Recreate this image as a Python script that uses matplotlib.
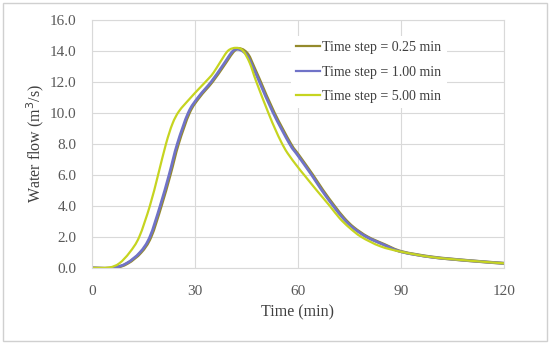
import matplotlib
matplotlib.use("Agg")
import matplotlib.pyplot as plt
import numpy as np
from matplotlib.patches import Rectangle, PathPatch
from matplotlib.path import Path
from matplotlib.lines import Line2D

# time step = 5.00 min
t_5 = [0, 5, 8, 11, 13.8, 16.9, 19.3, 21.6, 23.5, 25.4, 28.5, 31, 34, 35.5, 37.5, 39.7,
       42, 44, 46, 47.9, 51.4, 53.4, 55.2, 57, 60, 62, 65.5, 69.3, 72.2, 75, 78.5, 84, 90, 99, 110, 120]
q_5 = [0, 0.03, 0.3, 1.0, 2.0, 4.0, 6.0, 8.0, 9.3, 10.1, 10.9, 11.5, 12.2, 12.6, 13.3, 14.0,
       14.18, 14.0, 13.2, 12.0, 10.0, 8.95, 8.1, 7.4, 6.5, 5.95, 5.0, 4.0, 3.2, 2.6, 2.0, 1.4, 1.05,
       0.7, 0.47, 0.3]

# time step = 1.00 min
t_1 = [0, 6, 10.1, 14, 16.9, 19.9, 22.5, 24.9, 28.1, 31, 34.8, 38, 41.2, 43.2, 45.2, 47,
       48.8, 52.8, 57.6, 60, 64, 67, 70.3, 73.2, 76, 80, 85, 90, 99, 110, 120]
q_1 = [0, 0.0, 0.3, 1.0, 2.0, 4.0, 6.0, 8.0, 10.0, 11.0, 12.0, 13.0, 14.0, 14.05, 13.7, 12.9,
       12.0, 10.0, 8.0, 7.25, 6.0, 5.0, 4.0, 3.2, 2.6, 2.0, 1.5, 1.05, 0.7, 0.47, 0.3]

# time step = 0.25 min
t_025 = [0, 6.3, 10.4, 14.3, 17.2, 20.2, 22.8, 25.2, 28.4, 31.3, 35.1, 38.3, 41.5, 43.5, 45.5, 47.3,
         49.1, 53.1, 57.9, 60.3, 64.3, 67.3, 70.6, 73.5, 76.3, 80.3, 85.3, 90.3, 99.3, 110, 120]
q_025 = [0, 0.0, 0.3, 1.0, 2.0, 4.0, 6.0, 8.0, 10.0, 11.0, 12.0, 13.0, 14.0, 14.1, 13.75, 12.9,
         12.0, 10.0, 8.0, 7.25, 6.0, 5.0, 4.0, 3.2, 2.6, 2.0, 1.5, 1.05, 0.7, 0.47, 0.3]

x_ticks = [0, 30, 60, 90, 120]
y_ticks = [0, 2, 4, 6, 8, 10, 12, 14, 16]


def smooth_line(ax, x, y, color, lw):
    # excel-like smoothed line: catmull-rom segments drawn as cubic beziers
    p = np.column_stack([x, y]).astype(float)
    ext = np.vstack([p[0], p, p[-1]])
    verts = [p[0]]
    codes = [Path.MOVETO]
    for i in range(1, len(ext) - 2):
        p0, p1, p2, p3 = ext[i - 1], ext[i], ext[i + 1], ext[i + 2]
        verts += [p1 + (p2 - p0) / 6, p2 - (p3 - p1) / 6, p2]
        codes += [Path.CURVE4] * 3
    ax.add_patch(PathPatch(Path(verts, codes), fill=False, edgecolor=color, lw=lw,
                           capstyle='round', joinstyle='round'))


plt.rcParams['font.family'] = ['Liberation Serif', 'DejaVu Serif']

fig = plt.figure(figsize=(5.5, 3.44), dpi=100)
ax = fig.add_axes([0.167, 0.221, 0.749, 0.722])

series = [
    (t_025, q_025, '#948a2c', 2.2, 'Time step = 0.25 min'),
    (t_1, q_1, '#7073c8', 2.0, 'Time step = 1.00 min'),
    (t_5, q_5, '#c6d420', 1.6, 'Time step = 5.00 min'),
]
handles = []
for x, y, c, lw, lab in series:
    smooth_line(ax, x, y, c, lw)
    handles.append(Line2D([], [], color=c, lw=1.6, label=lab))

ax.set_xlim(0, 120)
ax.set_ylim(0, 16)
ax.set_xticks(x_ticks)
ax.set_yticks(y_ticks)
ax.set_yticklabels([f"{v:.1f}" for v in y_ticks])
ax.grid(True, color='#d9d9d9', lw=0.8)
ax.set_axisbelow(True)
for s in ax.spines.values():
    s.set_color('#d9d9d9')
    s.set_linewidth(0.8)
ax.tick_params(length=0, labelsize=11, colors='#595959')
ax.tick_params(axis='x', pad=12)
ax.tick_params(axis='y', pad=11)

ax.set_xlabel('Time (min)', fontsize=11.5, color='#404040', labelpad=5)
ax.set_ylabel('Water flow (m$^3$/s)', fontsize=11.5, color='#404040', labelpad=3)

leg = ax.legend(handles=handles, loc='upper left', bbox_to_anchor=(0.483, 0.935), fontsize=10.1,
                frameon=True, facecolor='white', edgecolor='none', framealpha=1,
                handlelength=1.7, handletextpad=0.15, labelspacing=0.8,
                borderaxespad=0)
for txt in leg.get_texts():
    txt.set_color('#404040')

fig.patches.append(Rectangle((0.006, 0.009), 0.988, 0.983, transform=fig.transFigure,
                             fill=False, edgecolor='#d0d0d0', lw=1))

fig.savefig('out.png', dpi=100)
